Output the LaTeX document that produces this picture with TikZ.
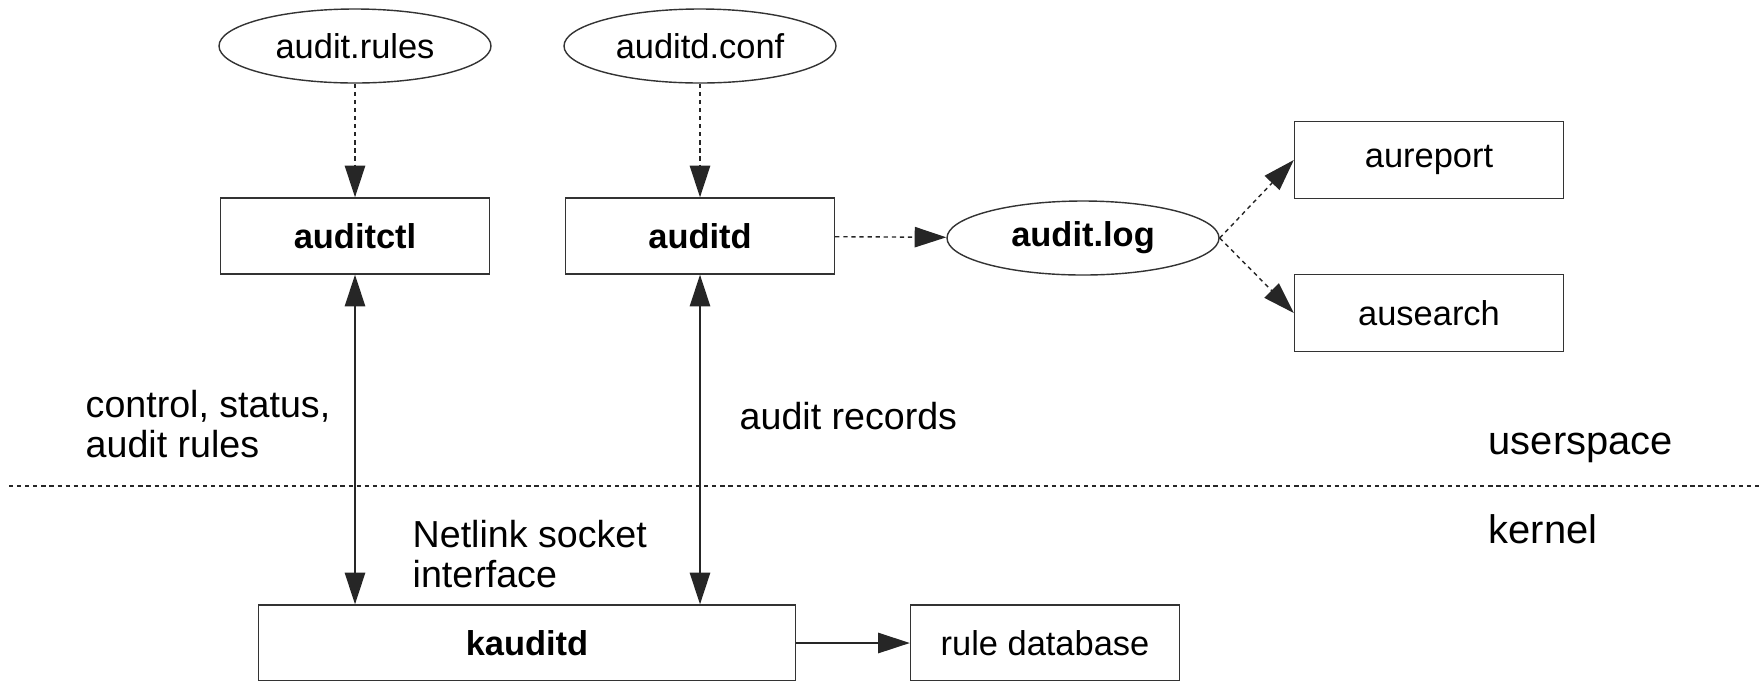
\documentclass[tikz,border=0pt]{standalone}
\usepackage{fontspec}
\setmainfont{Liberation Sans}
\usetikzlibrary{arrows.meta,shapes.geometric}
\newcommand{\diagfont}{\fontsize{9.8}{12}\selectfont}
\newcommand{\notefont}{\fontsize{10.7}{11.6}\selectfont}
\newcommand{\layerfont}{\fontsize{11.35}{13}\selectfont}

\begin{document}
\begin{tikzpicture}[x=0.1mm,y=-0.1mm,>={Triangle[length=9pt,width=5.8pt]},
  box/.style={draw=black!80,line width=.4pt,minimum width=26.9mm,minimum height=7.6mm,inner sep=0pt,font=\diagfont},
  file/.style={draw=black!80,line width=.4pt,ellipse,minimum width=27.2mm,minimum height=7.4mm,inner sep=0pt,font=\diagfont},
  lbl/.style={anchor=base west,align=left,inner sep=0pt,font=\notefont},
  link/.style={->,black!85,line width=.4pt},
  weak/.style={link,dash pattern=on 1.2pt off 1.1pt}]
\useasboundingbox (0,0) rectangle (1760,680);
\clip (0,0) rectangle (1760,680);
% config files and userspace tools
\node[file] (rules) at (355,46) {audit.rules};
\node[file] (conf) at (700,46) {auditd.conf};
\node[box,font=\diagfont\bfseries] (auditctl) at (355,236) {auditctl};
\node[box,font=\diagfont\bfseries] (auditd) at (700,236) {auditd};
\node[file,font=\diagfont\bfseries] (log) at (1083,238) {audit.log};
\node[box,minimum height=7.7mm] (aureport) at (1429,160) {aureport};
\node[box,minimum height=7.7mm] (ausearch) at (1429,313) {ausearch};
% kernel side
\node[box,font=\diagfont\bfseries,minimum width=53.7mm] (kauditd) at (527,643) {kauditd};
\node[box] (ruledb) at (1045,643) {rule database};
% userspace / kernel border
\draw[black!85,dash pattern=on 1.2pt off 1.1pt] (9,486) -- (1760,486);
\node[lbl,font=\layerfont] (user) at (1488,454) {userspace};
\node[lbl,font=\layerfont] (kernel) at (1488,543) {kernel};
\node[lbl,anchor=west] (ctrl) at (85,424) {control, status,\\audit rules};
\node[lbl] (records) at (739,429) {audit records};
\node[lbl,anchor=west] (netlink) at (412,554) {Netlink socket\\interface};
% connectors
\draw[weak] (rules) -- (auditctl);
\draw[weak] (conf) -- (auditd);
\draw[weak] (auditd) -- (log);
\draw[weak] (log.east) -- (aureport.west);
\draw[weak] (log.east) -- (ausearch.west);
\draw[link,<->] (auditctl) -- (auditctl |- kauditd.north);
\draw[link,<->] (auditd) -- (auditd |- kauditd.north);
\draw[link] (kauditd) -- (ruledb);
\end{tikzpicture}
\end{document}
